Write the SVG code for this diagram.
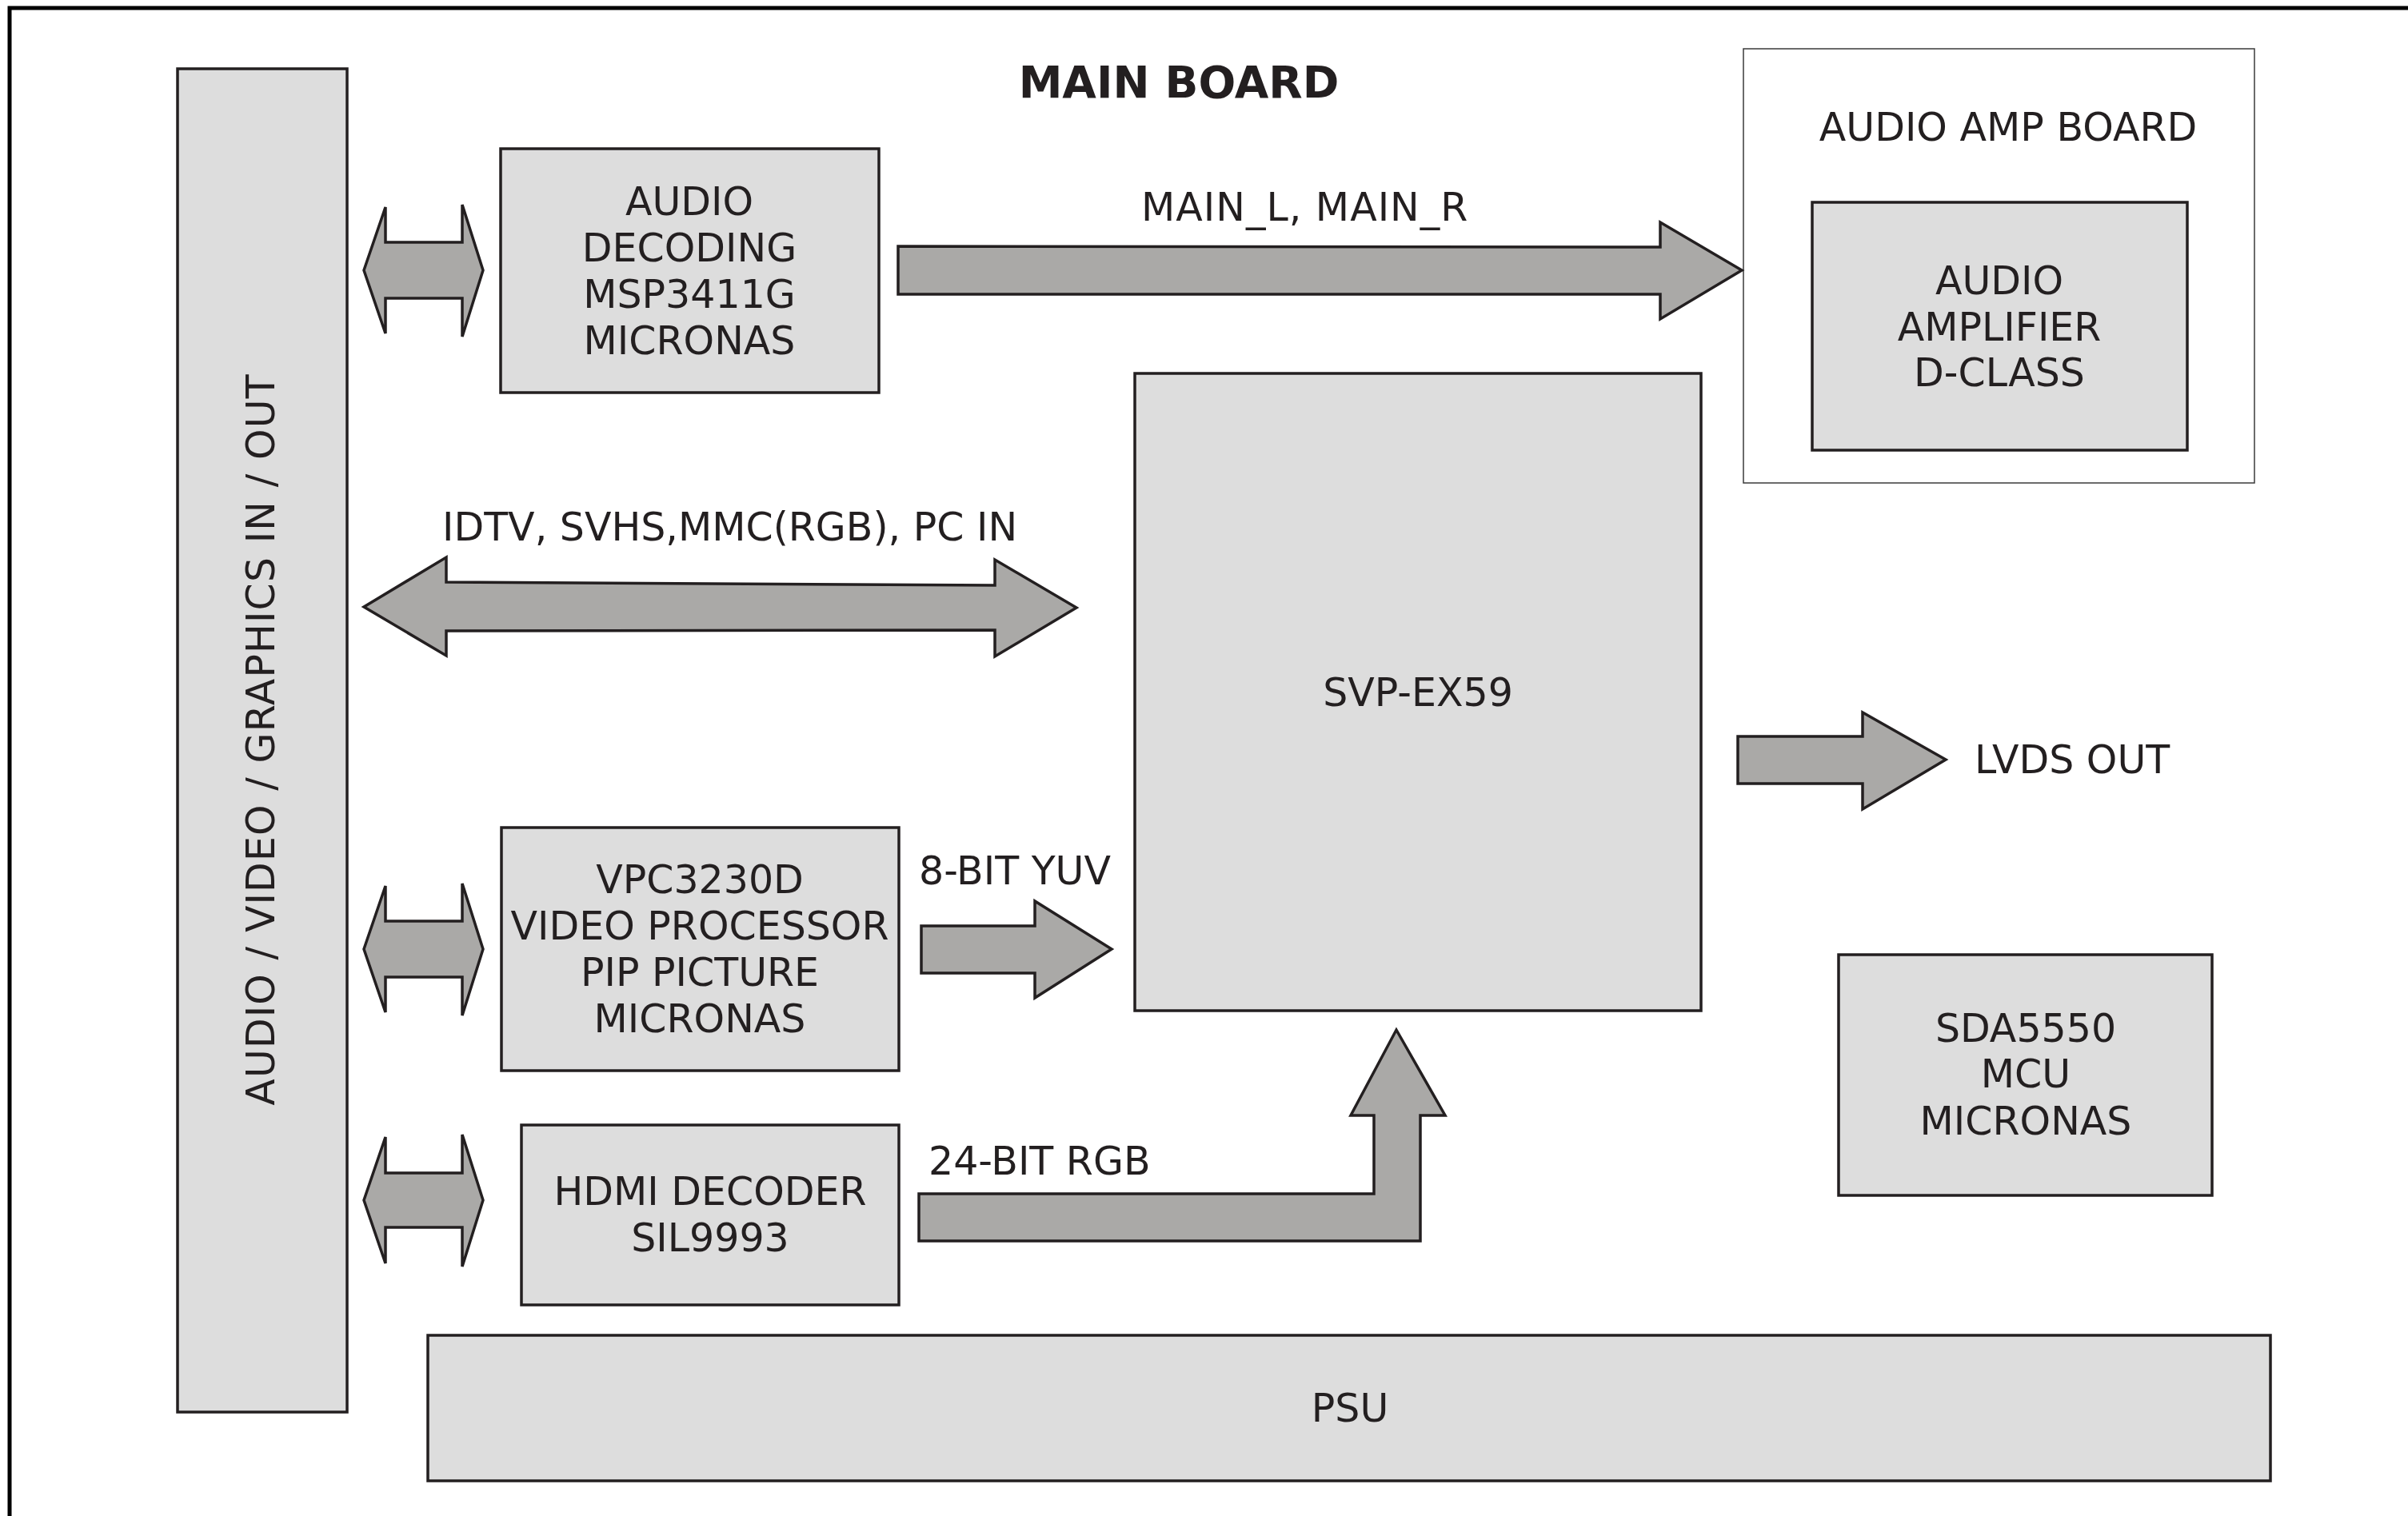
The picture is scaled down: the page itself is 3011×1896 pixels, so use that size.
<svg xmlns="http://www.w3.org/2000/svg" width="3011" height="1896" viewBox="0 0 3011 1896">
<style>
.box{fill:#dddddd;stroke:#231f20;stroke-width:3.5}
.board{fill:#ffffff;stroke:#3a3a3a;stroke-width:1.5}
.arr{fill:#aaa9a7;stroke:#231f20;stroke-width:3.5;stroke-linejoin:miter}
text{font-family:"DejaVu Sans","Noto Sans",sans-serif;font-size:49px;fill:#231f20}
.c{text-anchor:middle}
.title{font-weight:bold;font-size:55px}
</style>
<rect width="3011" height="1896" fill="#ffffff"/>
<path d="M12,1896 V10 H3011" fill="none" stroke="#000000" stroke-width="5"/>
<text class="title c" x="1474" y="122">MAIN BOARD</text>

<g id="io-bar">
<rect class="box" x="222" y="86" width="212" height="1680"/>
<text class="c" transform="translate(343,925) rotate(-90)" font-size="48" letter-spacing="1.1">AUDIO / VIDEO / GRAPHICS IN / OUT</text>
</g>

<g id="audio-decoding">
<rect class="box" x="626" y="186" width="473" height="305"/>
<text class="c" x="862" y="269">AUDIO</text>
<text class="c" x="862" y="327">DECODING</text>
<text class="c" x="862" y="385">MSP3411G</text>
<text class="c" x="862" y="443">MICRONAS</text>
</g>

<g id="vpc">
<rect class="box" x="627" y="1035" width="497" height="304"/>
<text class="c" x="875" y="1117">VPC3230D</text>
<text class="c" x="875" y="1175">VIDEO PROCESSOR</text>
<text class="c" x="875" y="1233">PIP PICTURE</text>
<text class="c" x="875" y="1291">MICRONAS</text>
</g>

<g id="hdmi">
<rect class="box" x="652" y="1407" width="472" height="225"/>
<text class="c" x="888" y="1507">HDMI DECODER</text>
<text class="c" x="888" y="1565">SIL9993</text>
</g>

<g id="psu">
<rect class="box" x="535" y="1670" width="2304" height="182"/>
<text class="c" x="1688" y="1778">PSU</text>
</g>

<g id="svp">
<rect class="box" x="1419" y="467" width="708" height="797"/>
<text class="c" x="1773" y="883">SVP-EX59</text>
</g>

<g id="audio-amp-board">
<rect class="board" x="2180" y="61" width="639" height="543"/>
<text class="c" x="2511" y="176">AUDIO AMP BOARD</text>
</g>

<g id="audio-amplifier">
<rect class="box" x="2266" y="253" width="469" height="310"/>
<text class="c" x="2500" y="368">AUDIO</text>
<text class="c" x="2500" y="426">AMPLIFIER</text>
<text class="c" x="2500" y="483">D-CLASS</text>
</g>

<g id="mcu">
<rect class="box" x="2299" y="1194" width="467" height="301"/>
<text class="c" x="2533" y="1303">SDA5550</text>
<text class="c" x="2533" y="1360">MCU</text>
<text class="c" x="2533" y="1419">MICRONAS</text>
</g>

<g id="lvds-label">
<text x="2469" y="967">LVDS OUT</text>
</g>

<g id="connectors">
<polygon class="arr" points="455,338 482,259 482,303 578,303 578,256 604,338 578,421 578,373 482,373 482,417"/>
<polygon class="arr" points="455,1187 482,1108 482,1152 578,1152 578,1105 604,1187 578,1270 578,1222 482,1222 482,1266"/>
<polygon class="arr" points="455,1501 482,1422 482,1467 578,1467 578,1419 604,1501 578,1584 578,1535 482,1535 482,1580"/>
<polygon class="arr" points="1123,308 2076,309 2076,278 2178,338 2076,399 2076,368 1123,368"/>
<text x="1427" y="276" letter-spacing="1">MAIN_L, MAIN_R</text>
<polygon class="arr" points="455,759 558,697 558,728 1244,732 1244,700 1346,760 1244,821 1244,788 558,789 558,820"/>
<text x="553" y="676">IDTV, SVHS,MMC(RGB), PC IN</text>
<polygon class="arr" points="1152,1158 1294,1158 1294,1127 1390,1187 1294,1248 1294,1217 1152,1217"/>
<text x="1149" y="1106">8-BIT YUV</text>
<polygon class="arr" points="1149,1493 1718,1493 1718,1395 1689,1395 1746,1288 1807,1395 1776,1395 1776,1552 1149,1552"/>
<text x="1161" y="1469">24-BIT RGB</text>
<polygon class="arr" points="2173,921 2329,921 2329,891 2433,950 2329,1012 2329,980 2173,980"/>
</g>
</svg>
